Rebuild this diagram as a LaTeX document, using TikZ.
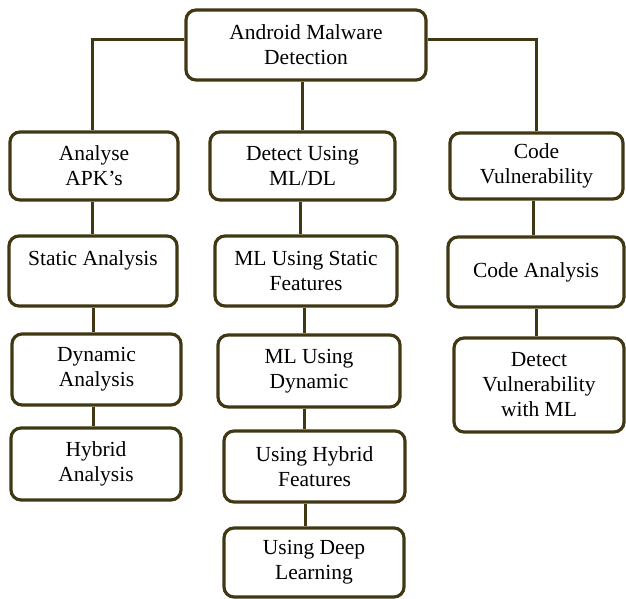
\documentclass[tikz,border=0pt]{standalone}
\usepackage{fontspec}
\setmainfont{Liberation Serif}
\definecolor{boxline}{RGB}{64,56,18}
\begin{document}
\begin{tikzpicture}[x=1pt,y=1pt,
  box/.style={draw=boxline, line width=3.2pt, rounded corners=10pt, fill=white,
    align=center, inner sep=0pt, font=\fontsize{21.5}{25}\selectfont},
  link/.style={draw=boxline, line width=3pt}]
\useasboundingbox (0,0) rectangle (626,-598);
% root
\node[box, minimum width=240, minimum height=70] (root) at (306,-45) {Android Malware\\Detection};
% column A
\node[box, minimum width=168, minimum height=68] (A1) at (94,-166) {Analyse\\APK’s};
\node[box, minimum width=168, minimum height=70] (A2) at (93,-271) {Static Analysis\\\mbox{}};
\node[box, minimum width=169, minimum height=71] (A3) at (96.5,-369.5) {Dynamic\\Analysis};
\node[box, minimum width=170, minimum height=72] (A4) at (96,-464) {Hybrid\\Analysis};
% column B
\node[box, minimum width=185, minimum height=68] (B1) at (302.5,-166) {Detect Using\\ML/DL};
\node[box, minimum width=182, minimum height=70] (B2) at (306,-271) {ML Using Static\\Features};
\node[box, minimum width=182, minimum height=72] (B3) at (309,-371) {ML Using\\Dynamic};
\node[box, minimum width=181, minimum height=71] (B4) at (314.5,-466.5) {Using Hybrid\\Features};
\node[box, minimum width=180, minimum height=69] (B5) at (314,-562.5) {Using Deep\\Learning};
% column C
\node[box, minimum width=173, minimum height=66] (C1) at (536.5,-166) {Code\\Vulnerability};
\node[box, minimum width=176, minimum height=70] (C2) at (536,-272) {Code Analysis};
\node[box, minimum width=170, minimum height=94] (C3) at (539,-385) {Detect\\Vulnerability\\with ML};
% connectors
\draw[link] ([yshift=6pt]root.west) -| ([xshift=-2pt]A1.north);
\draw[link] (B1.north |- root.south) -- (B1.north);
\draw[link] ([yshift=6pt]root.east) -| (C1.north);
\draw[link] ([xshift=-2pt]A1.south) -- ([xshift=-2pt]A1.south |- A2.north);
\draw[link] (A2.south) -- (A2.south |- A3.north);
\draw[link] ([xshift=-3pt]A3.south) -- ([xshift=-3pt]A3.south |- A4.north);
\draw[link] ([xshift=-2pt]B1.south) -- ([xshift=-2pt]B1.south |- B2.north);
\draw[link] ([xshift=-2pt]B2.south) -- ([xshift=-2pt]B2.south |- B3.north);
\draw[link] ([xshift=-5pt]B3.south) -- ([xshift=-5pt]B3.south |- B4.north);
\draw[link] ([xshift=-9pt]B4.south) -- ([xshift=-9pt]B4.south |- B5.north);
\draw[link] ([xshift=-3pt]C1.south) -- ([xshift=-3pt]C1.south |- C2.north);
\draw[link] (C2.south) -- (C2.south |- C3.north);
\end{tikzpicture}
\end{document}
